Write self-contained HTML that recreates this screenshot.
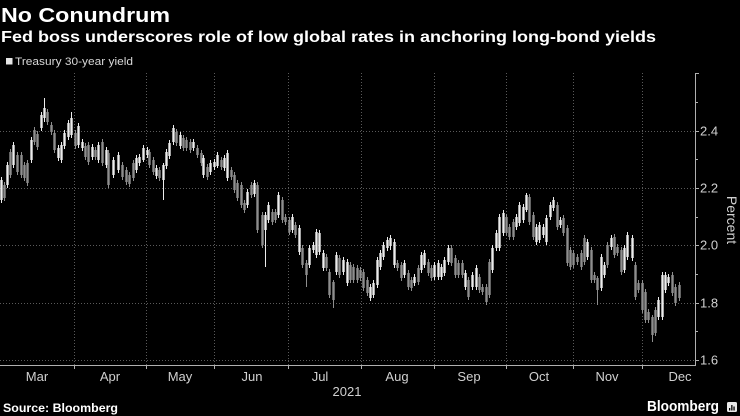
<!DOCTYPE html>
<html>
<head>
<meta charset="utf-8">
<style>
  html,body{margin:0;padding:0;background:#000;}
  body{width:740px;height:416px;overflow:hidden;}
  svg{display:block;}
  text{font-family:"Liberation Sans",sans-serif;}
</style>
</head>
<body>
<svg id="c" width="740" height="416" viewBox="0 0 740 416" xmlns="http://www.w3.org/2000/svg">
  <rect x="0" y="0" width="740" height="416" fill="#000"/>
  <text x="1" y="22" font-size="20" font-weight="bold" fill="#fff" textLength="169" lengthAdjust="spacingAndGlyphs">No Conundrum</text>
  <text x="1" y="42" font-size="16" font-weight="bold" fill="#fff" textLength="655" lengthAdjust="spacingAndGlyphs">Fed boss underscores role of low global rates in anchoring long-bond yields</text>
  <rect x="6" y="58" width="6.5" height="6.5" fill="#e6e6e6"/>
  <text x="15" y="65" font-size="11" fill="#d8d8d8" textLength="118" lengthAdjust="spacingAndGlyphs">Treasury 30-year yield</text>

  <g id="grid" stroke="#5a5a5a" stroke-width="1" stroke-dasharray="1,2" fill="none"></g>
  <g id="candles"></g>

  <!-- axes -->
  <line x1="695.5" y1="73" x2="695.5" y2="365.5" stroke="#b0b0b0" stroke-width="1"/>
  <line x1="0" y1="365.5" x2="696" y2="365.5" stroke="#b0b0b0" stroke-width="1"/>
  <g id="ticks" stroke="#b0b0b0" stroke-width="1"></g>
  <g font-size="13" fill="#d0d0d0">
    <text x="700" y="135.5">2.4</text>
    <text x="700" y="192.5">2.2</text>
    <text x="700" y="249.5">2.0</text>
    <text x="700" y="307.5">1.8</text>
    <text x="700" y="364.5">1.6</text>
  </g>
  <text transform="translate(727,220) rotate(90)" text-anchor="middle" font-size="14" fill="#d0d0d0">Percent</text>

  <g font-size="13" fill="#d0d0d0" text-anchor="middle">
    <text x="37" y="381">Mar</text>
    <text x="110" y="381">Apr</text>
    <text x="180" y="381">May</text>
    <text x="252" y="381">Jun</text>
    <text x="320" y="381">Jul</text>
    <text x="397" y="381">Aug</text>
    <text x="469" y="381">Sep</text>
    <text x="539" y="381">Oct</text>
    <text x="607" y="381">Nov</text>
    <text x="680" y="381">Dec</text>
    <text x="347" y="396">2021</text>
  </g>

  <text x="3" y="412" font-size="11.5" font-weight="bold" fill="#fff" textLength="115" lengthAdjust="spacingAndGlyphs">Source: Bloomberg</text>
  <text x="647" y="411" font-size="15" font-weight="bold" fill="#fff" textLength="72" lengthAdjust="spacingAndGlyphs">Bloomberg</text>
  <rect x="727" y="402" width="10" height="10" rx="1.5" fill="#e8e8e8"/>
  <rect x="729" y="408" width="1.3" height="2.5" fill="#000"/>
  <rect x="731.2" y="405" width="1.3" height="5.5" fill="#000"/>
  <rect x="733.4" y="406.5" width="1.3" height="4" fill="#000"/>
</svg>
<script>
(function(){
  var NS="http://www.w3.org/2000/svg";
  function el(tag,attrs,parent){var e=document.createElementNS(NS,tag);for(var k in attrs)e.setAttribute(k,attrs[k]);parent.appendChild(e);return e;}
  var grid=document.getElementById('grid');
  [131,188,245,303,360].forEach(function(y){el('line',{x1:0,y1:y+0.5,x2:695,y2:y+0.5},grid);});
  var mx=[74,146,214,288,361,434,506,573,642];
  mx.forEach(function(x){el('line',{x1:x+0.5,y1:73,x2:x+0.5,y2:365},grid);});
  var ticks=document.getElementById('ticks');
  [73,102,131,159,188,217,245,274,303,331,360].forEach(function(y,i){
    el('line',{x1:695,y1:y+0.5,x2:(i%2==0?699:698),y2:y+0.5},ticks);
  });
  mx.forEach(function(x){el('line',{x1:x+0.5,y1:365,x2:x+0.5,y2:369},ticks);});

  var d=[[1,180,200],[4,185,198],[7,165,185],[10,152,175],[13,145,165],[17,155,172],[21,155,175],[24,165,178],[27,163,183],[31,140,160],[34,130,142],[37,134,147],[41,115,128],[44,108,118,98,122],[47,112,122],[51,125,132],[54,133,150],[58,148,158],[61,145,160],[64,133,146],[68,123,137],[71,118,135,112,138],[75,133,146],[78,126,145],[82,142,148],[85,146,157],[88,145,162],[92,147,157],[95,150,157],[98,145,160],[102,142,163],[106,150,165],[108,153,185],[113,160,175],[118,155,170],[122,165,177],[126,170,182],[129,175,184],[133,163,178],[136,158,170],[139,157,163],[143,148,160,145,162],[147,150,155],[149,152,165],[153,160,172],[156,168,176],[159,170,178],[163,165,180,163,200],[166,152,166],[169,143,156],[173,128,142],[176,132,143],
  [180,135,146],[183,138,148],[186,140,148],[190,142,150],[193,142,148],[197,148,155],[201,153,163],[203,158,175],[207,167,177],[210,163,172],[214,162,167],[217,155,166,152,168],[221,160,167],[224,158,168],[227,153,178],[231,170,177],[234,175,190],[237,183,198],[241,185,205],[244,203,210],[247,192,205],[251,185,195],[254,183,194],[257,185,230],[262,215,245],[265,215,230,212,267],[268,205,220],[272,212,222],[275,212,220],[278,195,215],[282,200,220],[285,217,222],[289,220,232],[292,217,230],[295,225,235],[299,228,252],[302,248,265],[306,263,275,260,287],[309,248,265],[313,245,250],[316,232,255],[319,233,252],[323,253,268],[326,257,268],[329,272,295],[333,282,300,280,308],[336,255,272],
  [339,258,275],[343,260,272],[347,262,283],[350,265,280],[353,267,280],[357,268,280],[360,270,278],[363,272,288],[367,280,293],[370,287,298],[373,283,295],[377,260,285],[380,253,267],[383,245,257],[387,240,248],[390,238,246,235,250],[394,242,265],[397,263,268],[401,265,278],[404,263,275],[408,273,287],[411,280,288],[414,277,283],[418,268,282],[421,255,270],[424,253,265],[428,262,273],[431,268,278],[434,265,277],[438,263,277],[441,267,277],[444,260,273],[448,248,262],[451,248,263],[455,258,275],[458,263,275],[462,263,275],[465,273,287],[468,280,297],[472,275,287],[476,268,287],[479,277,290],[482,287,292],[486,287,302],[489,262,295],[492,248,270],[496,233,248],[499,217,248],[503,213,233],
  [506,217,233],[509,227,237],[513,222,237],[516,217,227],[519,205,223],[523,207,220],[526,195,210,193,212],[529,197,222],[533,215,237],[536,227,242],[539,225,240],[543,227,235],[546,218,242],[550,205,217],[553,200,208],[557,205,227],[560,220,225],[563,218,233],[567,228,263],[570,250,267],[573,253,265],[577,257,262],[581,253,267],[584,238,262],[587,242,257],[591,250,280],[594,275,280],[597,278,290,276,305],[601,257,288],[604,265,275],[607,245,265],[611,238,247],[614,237,255],[617,247,253],[621,250,272],[624,248,270],[627,235,257],[632,238,258],[635,265,297],[638,283,290],[642,283,310],[645,292,320],[648,312,320],[652,317,335,315,342],[655,310,333],[658,300,317],[662,275,317],[665,275,290],[668,277,283],[672,275,293],[675,287,303],[679,285,298]];
  var g=document.getElementById('candles');
  var prevMid=null;
  d.forEach(function(c,i){
    var x=c[0], t=c[1], b=c[2];
    var wt=c.length>3?c[3]:t-3, wb=c.length>3?c[4]:b+3;
    var mid=(t+b)/2;
    var up = prevMid===null ? true : (mid<prevMid);
    if(i%7==3) up=!up;
    prevMid=mid;
    var col= up ? '#ececec' : '#8e8e8e';
    el('line',{x1:x+0.5,y1:wt,x2:x+0.5,y2:wb,stroke:col,'stroke-width':1},g);
    el('rect',{x:x-0.7,y:t,width:2.4,height:Math.max(1,b-t),fill:col},g);
  });
})();
</script>
</body>
</html>
